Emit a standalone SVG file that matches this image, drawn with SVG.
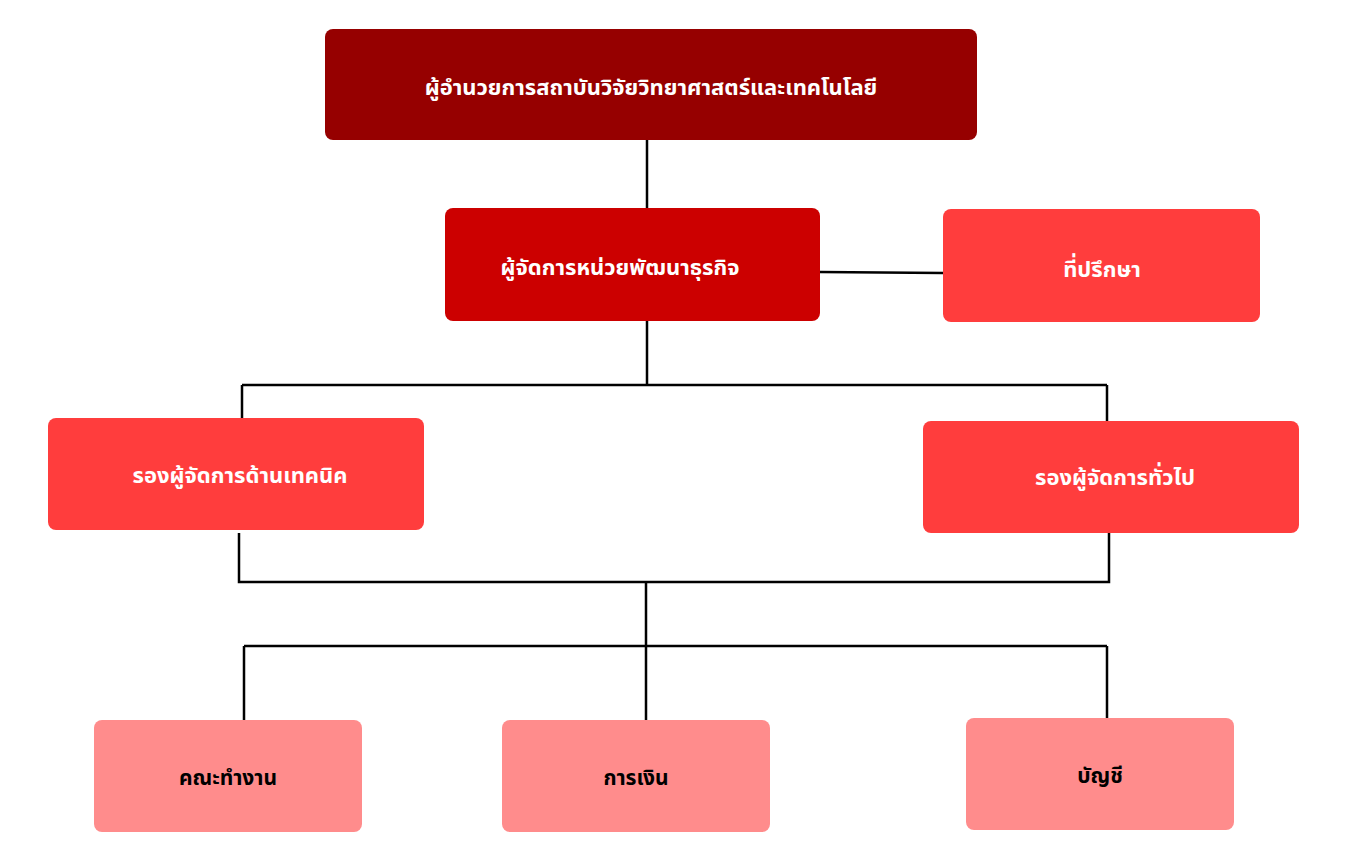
<svg xmlns="http://www.w3.org/2000/svg" width="1352" height="868" viewBox="0 0 1352 868">
<style>
.t{font-family:"Noto Sans Thai","Noto Sans","DejaVu Sans",sans-serif;font-weight:bold;text-anchor:middle;dominant-baseline:central}
.w{fill:#fff;font-size:22px}
.k{fill:#000;font-size:21px}
.c{stroke:#000;stroke-width:2.5;fill:none}
</style>
<rect width="1352" height="868" fill="#fff"/>
<g id="connectors" class="c">
<path d="M647 140V208M820 272L943 273M647 321V385M242 385H1107M242 385V418M1107 385V421"/>
<path d="M239 533V582H1109V533M646 582V720M244 646H1107M244 646V720M1107 646V718"/>
</g>
<g id="director"><rect x="325" y="29" width="652" height="111" rx="8" fill="#960000"/><text class="t w" x="651" y="88">ผู้อำนวยการสถาบันวิจัยวิทยาศาสตร์และเทคโนโลยี</text></g>
<g id="manager"><rect x="445" y="208" width="375" height="113" rx="8" fill="#CC0000"/><text class="t w" x="620" y="268">ผู้จัดการหน่วยพัฒนาธุรกิจ</text></g>
<g id="advisor"><rect x="943" y="209" width="317" height="113" rx="8" fill="#FF3D3D"/><text class="t w" x="1102" y="270">ที่ปรึกษา</text></g>
<g id="tech"><rect x="48" y="418" width="376" height="112" rx="8" fill="#FF3D3D"/><text class="t w" x="240" y="476">รองผู้จัดการด้านเทคนิค</text></g>
<g id="general"><rect x="923" y="421" width="376" height="112" rx="8" fill="#FF3D3D"/><text class="t w" x="1115" y="478">รองผู้จัดการทั่วไป</text></g>
<g id="team"><rect x="94" y="720" width="268" height="112" rx="8" fill="#FF8C8C"/><text class="t k" x="228" y="778">คณะทำงาน</text></g>
<g id="finance"><rect x="502" y="720" width="268" height="112" rx="8" fill="#FF8C8C"/><text class="t k" x="636" y="778">การเงิน</text></g>
<g id="accounting"><rect x="966" y="718" width="268" height="112" rx="8" fill="#FF8C8C"/><text class="t k" x="1100" y="776">บัญชี</text></g>
</svg>
